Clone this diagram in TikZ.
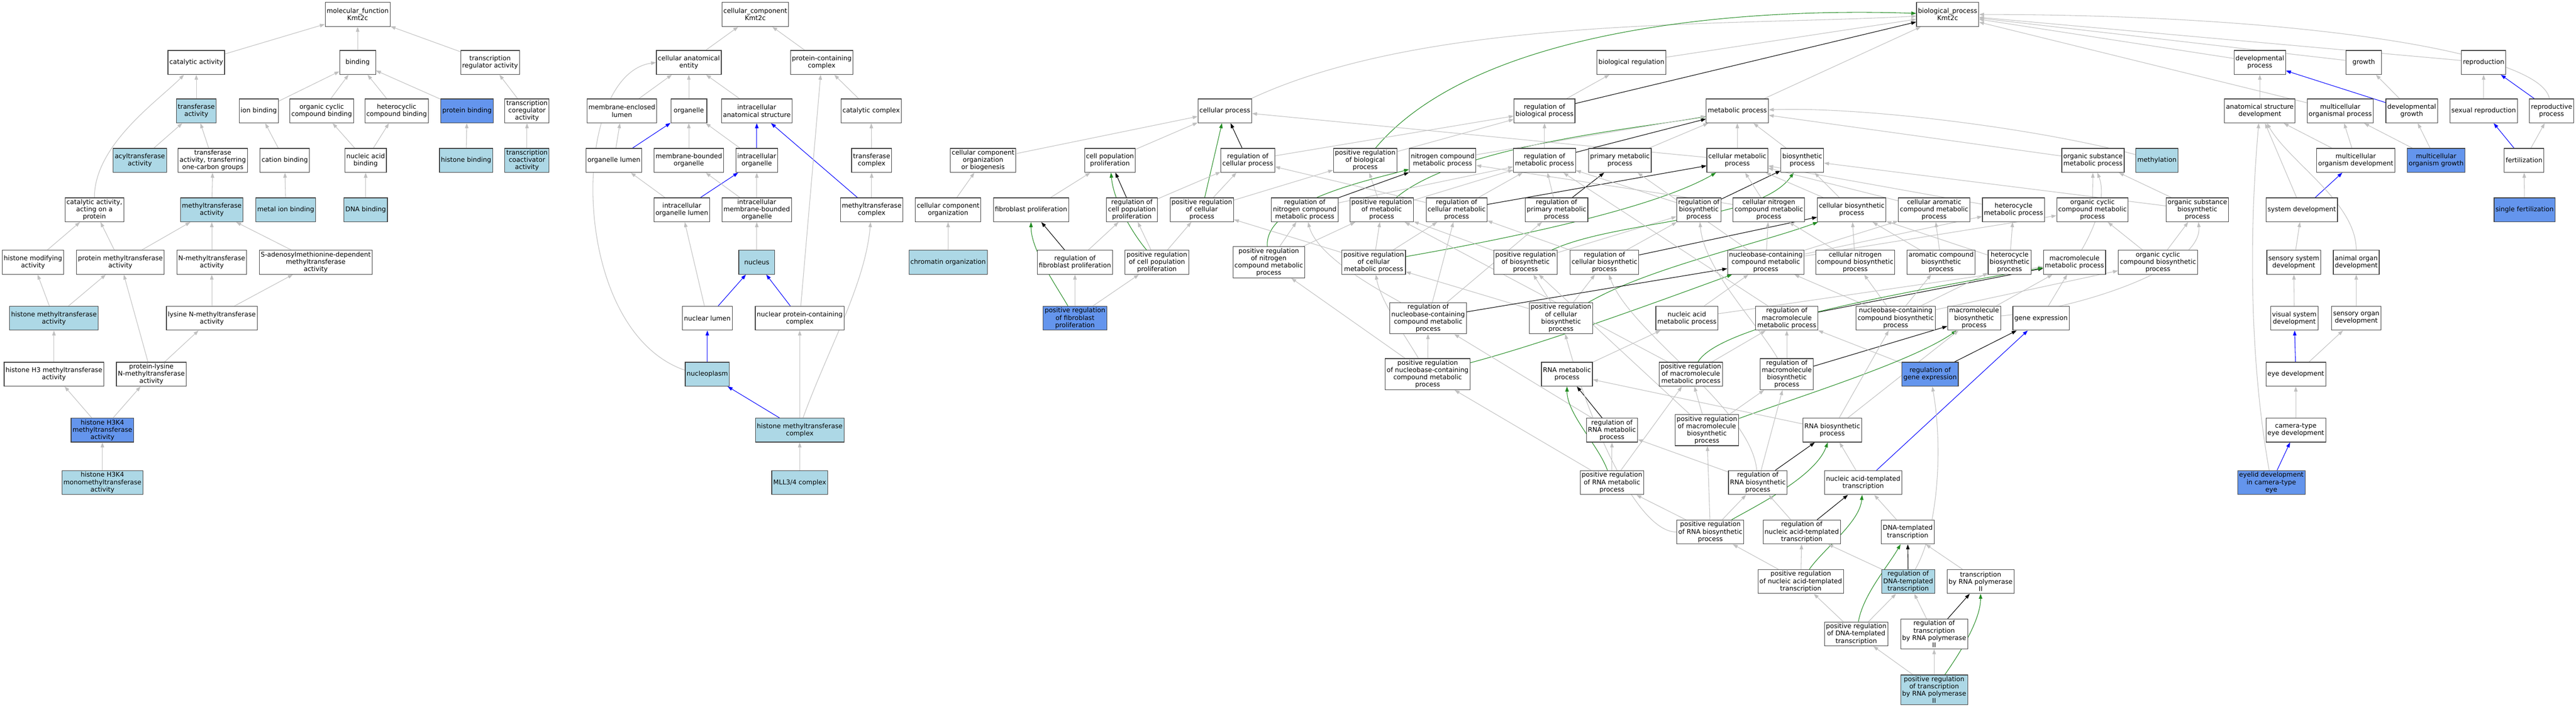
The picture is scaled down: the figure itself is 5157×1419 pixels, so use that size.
\documentclass[tikz,border=0pt]{standalone}
\usepackage{fontspec}
\setmainfont{DejaVu Sans}
\usetikzlibrary{arrows.meta,backgrounds}
\definecolor{isagray}{RGB}{192,192,192}
\definecolor{posgreen}{RGB}{34,139,34}
\definecolor{lightbluefill}{RGB}{173,216,230}
\definecolor{cornflower}{RGB}{100,149,237}
\tikzset{
	term/.style={rectangle, draw=black!75, line width=1.2pt, fill=white, align=center, inner xsep=3pt, inner ysep=3pt, minimum width=72pt, minimum height=48pt, font=\fontsize{13pt}{14.6pt}\selectfont},
	termlb/.style={term, fill=lightbluefill},
	termcf/.style={term, fill=cornflower},
	isaedge/.style={draw=isagray, line width=1.1pt, -{Triangle[length=10pt,width=7pt]}},
	regedge/.style={isaedge, draw=black},
	posedge/.style={isaedge, draw=posgreen},
	partedge/.style={isaedge, draw=blue}
}
\begin{document}
\begin{tikzpicture}[x=1pt,y=-1pt]
	\useasboundingbox (0,0) rectangle (5157,1419);

	\node[term] (mf) at (716,29) {molecular\_function\\Kmt2c};
	\node[term] (catact) at (393,125) {catalytic activity};
	\node[term] (bind) at (716,125) {binding};
	\node[term] (tra) at (981,125) {transcription\\regulator activity};
	\node[termlb] (trans) at (393,222) {transferase\\activity};
	\node[term] (ionb) at (518,222) {ion binding};
	\node[term] (occb) at (644,222) {organic cyclic\\compound binding};
	\node[term] (hetcb) at (794,222) {heterocyclic\\compound binding};
	\node[termcf] (protb) at (935,222) {protein binding};
	\node[term] (tcoreg) at (1055,222) {transcription\\coregulator\\activity};
	\node[termlb] (acyl) at (280,321) {acyltransferase\\activity};
	\node[term] (onec) at (426,321) {transferase\\activity, transferring\\one-carbon groups};
	\node[term] (cationb) at (570,321) {cation binding};
	\node[term] (nab) at (732,321) {nucleic acid\\binding};
	\node[termlb] (histb) at (933,321) {histone binding};
	\node[termlb] (tcoact) at (1055,321) {transcription\\coactivator\\activity};
	\node[term] (catprot) at (189,420) {catalytic activity,\\acting on a\\protein};
	\node[termlb] (methtr) at (424,420) {methyltransferase\\activity};
	\node[termlb] (metalb) at (572,420) {metal ion binding};
	\node[termlb] (dnab) at (732,420) {DNA binding};
	\node[term] (histmod) at (66,525) {histone modifying\\activity};
	\node[term] (protmeth) at (241,525) {protein methyltransferase\\activity};
	\node[term] (nmeth) at (424,525) {N-methyltransferase\\activity};
	\node[term] (sam) at (632,525) {S-adenosylmethionine-dependent\\methyltransferase\\activity};
	\node[termlb] (histmeth) at (108,637) {histone methyltransferase\\activity};
	\node[term] (lysnmeth) at (424,637) {lysine N-methyltransferase\\activity};
	\node[term] (h3meth) at (108,749) {histone H3 methyltransferase\\activity};
	\node[term] (plnmeth) at (303,749) {protein-lysine\\N-methyltransferase\\activity};
	\node[termcf] (h3k4) at (205,861) {histone H3K4\\methyltransferase\\activity};
	\node[termlb] (h3k4mono) at (205,966) {histone H3K4\\monomethyltransferase\\activity};

	\node[term] (cc) at (1512,29) {cellular\_component\\Kmt2c};
	\node[term] (cae) at (1379,125) {cellular anatomical\\entity};
	\node[term] (pcc) at (1645,125) {protein-containing\\complex};
	\node[term] (mel) at (1245,222) {membrane-enclosed\\lumen};
	\node[term] (organelle) at (1379,222) {organelle};
	\node[term] (ias) at (1515,222) {intracellular\\anatomical structure};
	\node[term] (catcplx) at (1744,222) {catalytic complex};
	\node[term] (orglumen) at (1229,321) {organelle lumen};
	\node[term] (mbo) at (1379,321) {membrane-bounded\\organelle};
	\node[term] (io) at (1515,321) {intracellular\\organelle};
	\node[term] (transcplx) at (1745,321) {transferase\\complex};
	\node[term] (iol) at (1365,420) {intracellular\\organelle lumen};
	\node[term] (imbo) at (1515,420) {intracellular\\membrane-bounded\\organelle};
	\node[term] (methcplx) at (1745,420) {methyltransferase\\complex};
	\node[termlb] (nucleus) at (1515,525) {nucleus};
	\node[term] (nuclumen) at (1416,637) {nuclear lumen};
	\node[term] (npcc) at (1601,637) {nuclear protein-containing\\complex};
	\node[termlb] (nucleoplasm) at (1416,749) {nucleoplasm};
	\node[termlb] (hmtcplx) at (1601,861) {histone methyltransferase\\complex};
	\node[termlb] (mll) at (1601,966) {MLL3/4 complex};

	\node[term] (bp) at (3899,29) {biological\_process\\Kmt2c};
	\node[term] (bioreg) at (3266,125) {biological regulation};
	\node[term] (devproc) at (4524,125) {developmental\\process};
	\node[term] (growth) at (4732,125) {growth};
	\node[term] (repro) at (4972,125) {reproduction};
	\node[term] (cellproc) at (2452,222) {cellular process};
	\node[term] (regbp) at (3092,222) {regulation of\\biological process};
	\node[term] (mp) at (3478,222) {metabolic process};
	\node[term] (asd) at (4524,222) {anatomical structure\\development};
	\node[term] (mop) at (4685,222) {multicellular\\organismal process};
	\node[term] (devgrowth) at (4828,222) {developmental\\growth};
	\node[term] (sexrepro) at (4972,222) {sexual reproduction};
	\node[term] (reprproc) at (5108,222) {reproductive\\process};
	\node[term] (ccob) at (1968,321) {cellular component\\organization\\or biogenesis};
	\node[term] (cpp) at (2222,321) {cell population\\proliferation};
	\node[term] (regcp) at (2498,321) {regulation of\\cellular process};
	\node[term] (posregbp) at (2733,321) {positive regulation\\of biological\\process};
	\node[term] (ncmp) at (2888,321) {nitrogen compound\\metabolic process};
	\node[term] (regmp) at (3092,321) {regulation of\\metabolic process};
	\node[term] (pmp) at (3243,321) {primary metabolic\\process};
	\node[term] (cmp) at (3478,321) {cellular metabolic\\process};
	\node[term] (biosyn) at (3608,321) {biosynthetic\\process};
	\node[term] (osmp) at (4190,321) {organic substance\\metabolic process};
	\node[termlb] (methyl) at (4318,321) {methylation};
	\node[term] (mod) at (4716,321) {multicellular\\organism development};
	\node[termcf] (mog) at (4877,321) {multicellular\\organism growth};
	\node[term] (fert) at (5053,321) {fertilization};
	\node[term] (cco) at (1898,420) {cellular component\\organization};
	\node[term] (fibro) at (2064,420) {fibroblast proliferation};
	\node[term] (regcpp) at (2266,420) {regulation of\\cell population\\proliferation};
	\node[term] (posregcp) at (2406,420) {positive regulation\\of cellular\\process};
	\node[term] (regncmp) at (2612,420) {regulation of\\nitrogen compound\\metabolic process};
	\node[term] (posregmp) at (2766,420) {positive regulation\\of metabolic\\process};
	\node[term] (regcmp) at (2916,420) {regulation of\\cellular metabolic\\process};
	\node[term] (regpmp) at (3116,420) {regulation of\\primary metabolic\\process};
	\node[term] (regbios) at (3401,420) {regulation of\\biosynthetic\\process};
	\node[term] (cncmp) at (3541,420) {cellular nitrogen\\compound metabolic\\process};
	\node[term] (cbp) at (3707,420) {cellular biosynthetic\\process};
	\node[term] (cacmp) at (3872,420) {cellular aromatic\\compound metabolic\\process};
	\node[term] (hmp) at (4031,420) {heterocycle\\metabolic process};
	\node[term] (occmp) at (4189,420) {organic cyclic\\compound metabolic\\process};
	\node[term] (osbp) at (4399,420) {organic substance\\biosynthetic\\process};
	\node[term] (sysdev) at (4608,420) {system development};
	\node[termcf] (sfert) at (5054,420) {single fertilization};
	\node[termlb] (chrom) at (1898,525) {chromatin organization};
	\node[term] (regfibro) at (2152,525) {regulation of\\fibroblast proliferation};
	\node[term] (posregcpp) at (2316,525) {positive regulation\\of cell population\\proliferation};
	\node[term] (posregncmp) at (2540,525) {positive regulation\\of nitrogen\\compound metabolic\\process};
	\node[term] (posregcmp) at (2750,525) {positive regulation\\of cellular\\metabolic process};
	\node[term] (posregbios) at (3054,525) {positive regulation\\of biosynthetic\\process};
	\node[term] (regcbp) at (3212,525) {regulation of\\cellular biosynthetic\\process};
	\node[term] (nbccmp) at (3535,525) {nucleobase-containing\\compound metabolic\\process};
	\node[term] (cncbp) at (3714,525) {cellular nitrogen\\compound biosynthetic\\process};
	\node[term] (acbp) at (3886,525) {aromatic compound\\biosynthetic\\process};
	\node[term] (hbp) at (4023,525) {heterocycle\\biosynthetic\\process};
	\node[term] (mmp) at (4153,525) {macromolecule\\metabolic process};
	\node[term] (occbp) at (4320,525) {organic cyclic\\compound biosynthetic\\process};
	\node[term] (ssd) at (4592,525) {sensory system\\development};
	\node[term] (aod) at (4717,525) {animal organ\\development};
	\node[termcf] (posregfibro) at (2152,637) {positive regulation\\of fibroblast\\proliferation};
	\node[term] (regnbccmp) at (2859,637) {regulation of\\nucleobase-containing\\compound metabolic\\process};
	\node[term] (posregcbp) at (3125,637) {positive regulation\\of cellular\\biosynthetic\\process};
	\node[term] (namp) at (3377,637) {nucleic acid\\metabolic process};
	\node[term] (regmmp) at (3577,637) {regulation of\\macromolecule\\metabolic process};
	\node[term] (nbcbp) at (3795,637) {nucleobase-containing\\compound biosynthetic\\process};
	\node[term] (mbp) at (3952,637) {macromolecule\\biosynthetic\\process};
	\node[term] (gexp) at (4086,637) {gene expression};
	\node[term] (vsd) at (4593,637) {visual system\\development};
	\node[term] (sod) at (4717,637) {sensory organ\\development};
	\node[term] (posregnbccmp) at (2858,749) {positive regulation\\of nucleobase-containing\\compound metabolic\\process};
	\node[term] (rnamp) at (3137,749) {RNA metabolic\\process};
	\node[term] (posregmmp) at (3385,749) {positive regulation\\of macromolecule\\metabolic process};
	\node[term] (regmbp) at (3577,749) {regulation of\\macromolecule\\biosynthetic\\process};
	\node[termcf] (reggexp) at (3864,749) {regulation of\\gene expression};
	\node[term] (eyedev) at (4596,749) {eye development};
	\node[term] (regrnamp) at (3227,861) {regulation of\\RNA metabolic\\process};
	\node[term] (posregmbp) at (3417,861) {positive regulation\\of macromolecule\\biosynthetic\\process};
	\node[term] (rnabp) at (3668,861) {RNA biosynthetic\\process};
	\node[term] (camera) at (4596,861) {camera-type\\eye development};
	\node[term] (posregrnamp) at (3227,966) {positive regulation\\of RNA metabolic\\process};
	\node[term] (regrnabp) at (3519,966) {regulation of\\RNA biosynthetic\\process};
	\node[term] (natt) at (3730,966) {nucleic acid-templated\\transcription};
	\node[termcf] (eyelid) at (4547,966) {eyelid development\\in camera-type\\eye};
	\node[term] (posregrnabp) at (3424,1065) {positive regulation\\of RNA biosynthetic\\process};
	\node[term] (regnatt) at (3607,1065) {regulation of\\nucleic acid-templated\\transcription};
	\node[term] (dnatt) at (3819,1065) {DNA-templated\\transcription};
	\node[term] (posregnatt) at (3605,1164) {positive regulation\\of nucleic acid-templated\\transcription};
	\node[termlb] (regdnatt) at (3820,1164) {regulation of\\DNA-templated\\transcription};
	\node[term] (tpol2) at (3965,1164) {transcription\\by RNA polymerase\\II};
	\node[term] (posregdnatt) at (3716,1269) {positive regulation\\of DNA-templated\\transcription};
	\node[term] (regtpol2) at (3872,1269) {regulation of\\transcription\\by RNA polymerase\\II};
	\node[termlb] (posregtpol2) at (3872,1381) {positive regulation\\of transcription\\by RNA polymerase\\II};

	\begin{scope}[on background layer]
	\draw[isaedge] (catact) -- (mf);
	\draw[isaedge] (bind) -- (mf);
	\draw[isaedge] (tra) -- (mf);
	\draw[isaedge] (trans) -- (catact);
	\draw[isaedge] (catprot) .. controls +(90:130pt) and +(225:110pt) .. (catact);
	\draw[isaedge] (ionb) -- (bind);
	\draw[isaedge] (occb) -- (bind);
	\draw[isaedge] (hetcb) -- (bind);
	\draw[isaedge] (protb) -- (bind);
	\draw[isaedge] (tcoreg) -- (tra);
	\draw[isaedge] (acyl) -- (trans);
	\draw[isaedge] (onec) -- (trans);
	\draw[isaedge] (cationb) -- (ionb);
	\draw[isaedge] (nab) -- (occb);
	\draw[isaedge] (nab) -- (hetcb);
	\draw[isaedge] (histb) -- (protb);
	\draw[isaedge] (tcoact) -- (tcoreg);
	\draw[isaedge] (methtr) -- (onec);
	\draw[isaedge] (metalb) -- (cationb);
	\draw[isaedge] (dnab) -- (nab);
	\draw[isaedge] (histmod) -- (catprot);
	\draw[isaedge] (protmeth) -- (catprot);
	\draw[isaedge] (protmeth) -- (methtr);
	\draw[isaedge] (nmeth) -- (methtr);
	\draw[isaedge] (sam) -- (methtr);
	\draw[isaedge] (histmeth) -- (histmod);
	\draw[isaedge] (histmeth) -- (protmeth);
	\draw[isaedge] (lysnmeth) -- (nmeth);
	\draw[isaedge] (lysnmeth) -- (sam);
	\draw[isaedge] (h3meth) -- (histmeth);
	\draw[isaedge] (plnmeth) -- (protmeth);
	\draw[isaedge] (plnmeth) -- (lysnmeth);
	\draw[isaedge] (h3k4) -- (h3meth);
	\draw[isaedge] (h3k4) -- (plnmeth);
	\draw[isaedge] (h3k4mono) -- (h3k4);

	\draw[isaedge] (cae) -- (cc);
	\draw[isaedge] (pcc) -- (cc);
	\draw[isaedge] (mel) -- (cae);
	\draw[isaedge] (organelle) -- (cae);
	\draw[isaedge] (ias) -- (cae);
	\draw[isaedge] (catcplx) -- (pcc);
	\draw[isaedge] (orglumen) -- (mel);
	\draw[partedge] (orglumen) -- (organelle);
	\draw[isaedge] (mbo) -- (organelle);
	\draw[isaedge] (io) -- (organelle);
	\draw[partedge] (io) -- (ias);
	\draw[isaedge] (transcplx) -- (catcplx);
	\draw[isaedge] (iol) -- (orglumen);
	\draw[partedge] (iol) -- (io);
	\draw[isaedge] (imbo) -- (mbo);
	\draw[isaedge] (imbo) -- (io);
	\draw[isaedge] (methcplx) -- (transcplx);
	\draw[partedge] (methcplx) -- (ias);
	\draw[isaedge] (nucleus) -- (imbo);
	\draw[isaedge] (nuclumen) -- (iol);
	\draw[partedge] (nuclumen) -- (nucleus);
	\draw[partedge] (npcc) -- (nucleus);
	\draw[isaedge] (npcc) -- (pcc);
	\draw[partedge] (nucleoplasm) -- (nuclumen);
	\draw[isaedge] (nucleoplasm.170) .. controls (1136,660) and (1140,150) .. (cae.west);
	\draw[partedge] (hmtcplx) -- (nucleoplasm);
	\draw[isaedge] (hmtcplx) -- (npcc);
	\draw[isaedge] (hmtcplx.75) .. controls +(70:150pt) and +(265:150pt) .. (methcplx);
	\draw[isaedge] (mll) -- (hmtcplx);

	\draw[isaedge] (bioreg) -- (bp);
	\draw[isaedge] (cellproc) .. controls +(25:450pt) and +(183:450pt) .. (bp);
	\draw[isaedge] (mp) -- (bp);
	\draw[isaedge] (devproc) -- (bp);
	\draw[isaedge] (growth) -- (bp);
	\draw[isaedge] (repro) -- (bp);
	\draw[isaedge] (mop) -- (bp);
	\draw[isaedge] (reprproc) .. controls +(100:120pt) and +(0:700pt) .. (bp);
	\draw[regedge] (regbp) -- (bp);
	\draw[posedge] (posregbp) .. controls +(50:350pt) and +(178:400pt) .. (bp);
	\draw[isaedge] (regbp) -- (bioreg);
	\draw[isaedge] (posregbp) -- (regbp);
	\draw[isaedge] (regcp) -- (regbp);
	\draw[regedge] (regcp) -- (cellproc);
	\draw[posedge] (posregcp) -- (cellproc);
	\draw[isaedge] (posregcp) -- (regcp);
	\draw[isaedge] (posregcp) -- (posregbp);
	\draw[isaedge] (cpp) -- (cellproc);
	\draw[isaedge] (ccob) -- (cellproc);
	\draw[isaedge] (cmp) -- (cellproc);
	\draw[isaedge] (regcpp) -- (regcp);
	\draw[regedge] (regcpp) -- (cpp);
	\draw[posedge] (posregcpp) .. controls +(130:80pt) and +(275:80pt) .. (cpp);
	\draw[isaedge] (posregcpp) -- (regcpp);
	\draw[isaedge] (posregcpp) -- (posregcp);
	\draw[isaedge] (fibro) -- (cpp);
	\draw[regedge] (regfibro) -- (fibro);
	\draw[isaedge] (regfibro) -- (regcpp);
	\draw[posedge] (posregfibro) .. controls +(120:80pt) and +(270:80pt) .. (fibro);
	\draw[isaedge] (posregfibro) -- (regfibro);
	\draw[isaedge] (posregfibro) -- (posregcpp);
	\draw[isaedge] (cco) -- (ccob);
	\draw[isaedge] (chrom) -- (cco);
	\draw[isaedge] (regmp) -- (regbp);
	\draw[regedge] (regmp) -- (mp);
	\draw[isaedge] (posregmp) -- (posregbp);
	\draw[isaedge] (posregmp) -- (regmp);
	\draw[posedge] (posregmp) .. controls +(40:200pt) and +(190:200pt) .. (mp);
	\draw[isaedge] (ncmp) -- (mp);
	\draw[isaedge] (pmp) -- (mp);
	\draw[isaedge] (cmp) -- (mp);
	\draw[isaedge] (biosyn) -- (mp);
	\draw[isaedge] (osmp) -- (mp);
	\draw[isaedge] (methyl) .. controls +(165:250pt) and +(2:250pt) .. (mp);
	\draw[isaedge] (regncmp) -- (regmp);
	\draw[regedge] (regncmp) -- (ncmp);
	\draw[posedge] (posregncmp) .. controls +(95:120pt) and +(195:150pt) .. (ncmp);
	\draw[isaedge] (posregncmp) -- (regncmp);
	\draw[isaedge] (posregncmp) -- (posregmp);
	\draw[isaedge] (regcmp) -- (regmp);
	\draw[isaedge] (regcmp) -- (regcp);
	\draw[regedge] (regcmp) -- (cmp);
	\draw[isaedge] (posregcmp) -- (posregcp);
	\draw[isaedge] (posregcmp) -- (posregmp);
	\draw[isaedge] (posregcmp) -- (regcmp);
	\draw[posedge] (posregcmp) .. controls +(10:250pt) and +(210:200pt) .. (cmp);
	\draw[isaedge] (regpmp) -- (regmp);
	\draw[regedge] (regpmp) -- (pmp);
	\draw[isaedge] (regbios) -- (regmp);
	\draw[regedge] (regbios) -- (biosyn);
	\draw[isaedge] (posregbios) -- (posregmp);
	\draw[isaedge] (posregbios) -- (regbios);
	\draw[posedge] (posregbios) .. controls +(25:200pt) and +(235:150pt) .. (biosyn);
	\draw[isaedge] (cncmp) -- (ncmp);
	\draw[isaedge] (cncmp) -- (cmp);
	\draw[isaedge] (cbp) -- (biosyn);
	\draw[isaedge] (cbp) -- (cmp);
	\draw[isaedge] (cacmp) -- (cmp);
	\draw[isaedge] (hmp) -- (cmp);
	\draw[isaedge] (occmp) -- (osmp);
	\draw[isaedge] (osbp) -- (osmp);
	\draw[isaedge] (osbp) -- (biosyn);
	\draw[isaedge] (regcbp) -- (regbios);
	\draw[isaedge] (regcbp) -- (regcmp);
	\draw[regedge] (regcbp) -- (cbp);
	\draw[isaedge] (posregcbp) -- (posregcmp);
	\draw[isaedge] (posregcbp) -- (posregbios);
	\draw[isaedge] (posregcbp) -- (regcbp);
	\draw[posedge] (posregcbp) .. controls +(30:200pt) and +(200:200pt) .. (cbp);
	\draw[isaedge] (nbccmp) -- (cncmp);
	\draw[isaedge] (nbccmp) -- (cacmp);
	\draw[isaedge] (nbccmp) -- (hmp);
	\draw[isaedge] (nbccmp) -- (occmp);
	\draw[isaedge] (nbccmp) -- (pmp);
	\draw[isaedge] (regnbccmp) .. controls +(150:100pt) and +(285:100pt) .. (regncmp);
	\draw[isaedge] (regnbccmp) -- (regcmp);
	\draw[isaedge] (regnbccmp) -- (regpmp);
	\draw[regedge] (regnbccmp) -- (nbccmp);
	\draw[isaedge] (posregnbccmp) -- (posregncmp);
	\draw[isaedge] (posregnbccmp) -- (regnbccmp);
	\draw[isaedge] (posregnbccmp) .. controls +(120:80pt) and +(280:80pt) .. (posregcmp);
	\draw[posedge] (posregnbccmp) .. controls +(15:250pt) and +(200:250pt) .. (nbccmp);
	\draw[isaedge] (cncbp) -- (cncmp);
	\draw[isaedge] (cncbp) -- (cbp);
	\draw[isaedge] (acbp) -- (cacmp);
	\draw[isaedge] (acbp) -- (cbp);
	\draw[isaedge] (hbp) -- (hmp);
	\draw[isaedge] (hbp) -- (cbp);
	\draw[isaedge] (mmp) .. controls +(60:80pt) and +(290:80pt) .. (osmp);
	\draw[isaedge] (occbp) -- (occmp);
	\draw[isaedge] (occbp) -- (osbp);
	\draw[isaedge] (namp) -- (nbccmp);
	\draw[isaedge] (namp) -- (mmp);
	\draw[isaedge] (regmmp) -- (regmp);
	\draw[regedge] (regmmp) -- (mmp);
	\draw[isaedge] (nbcbp) -- (nbccmp);
	\draw[isaedge] (nbcbp) -- (cncbp);
	\draw[isaedge] (nbcbp) -- (acbp);
	\draw[isaedge] (nbcbp) -- (hbp);
	\draw[isaedge] (nbcbp) -- (occbp);
	\draw[isaedge] (mbp) -- (mmp);
	\draw[isaedge] (mbp) .. controls +(5:200pt) and +(275:120pt) .. (osbp);
	\draw[isaedge] (gexp) -- (mmp);
	\draw[isaedge] (rnamp) -- (namp);
	\draw[isaedge] (posregmmp) -- (regmmp);
	\draw[isaedge] (posregmmp) -- (posregmp);
	\draw[posedge] (posregmmp) .. controls +(60:120pt) and +(190:300pt) .. (mmp);
	\draw[isaedge] (regmbp) -- (regmmp);
	\draw[isaedge] (regmbp) .. controls +(120:120pt) and +(275:120pt) .. (regbios);
	\draw[regedge] (regmbp) -- (mbp);
	\draw[isaedge] (reggexp) -- (regmmp);
	\draw[regedge] (reggexp) -- (gexp);
	\draw[isaedge] (regrnamp) -- (regnbccmp);
	\draw[regedge] (regrnamp) -- (rnamp);
	\draw[isaedge] (posregmbp) -- (posregmmp);
	\draw[isaedge] (posregmbp) -- (regmbp);
	\draw[isaedge] (posregmbp) -- (posregbios);
	\draw[posedge] (posregmbp) .. controls +(20:200pt) and +(215:150pt) .. (mbp);
	\draw[isaedge] (rnabp) -- (rnamp);
	\draw[isaedge] (rnabp) -- (nbcbp);
	\draw[isaedge] (rnabp) -- (mbp);
	\draw[isaedge] (posregrnamp) -- (posregnbccmp);
	\draw[isaedge] (posregrnamp) -- (regrnamp);
	\draw[isaedge] (posregrnamp) -- (posregmmp);
	\draw[posedge] (posregrnamp) .. controls +(110:80pt) and +(270:80pt) .. (rnamp);
	\draw[isaedge] (regrnabp) -- (regrnamp);
	\draw[isaedge] (regrnabp) -- (regmbp);
	\draw[isaedge] (regrnabp) .. controls +(95:150pt) and +(290:150pt) .. (regcbp);
	\draw[regedge] (regrnabp) -- (rnabp);
	\draw[isaedge] (natt) -- (rnabp);
	\draw[partedge] (natt) -- (gexp);
	\draw[isaedge] (posregrnabp) -- (posregrnamp);
	\draw[isaedge] (posregrnabp) -- (posregmbp);
	\draw[isaedge] (posregrnabp) -- (regrnabp);
	\draw[isaedge] (posregrnabp) .. controls +(180:150pt) and +(285:200pt) .. (posregcbp);
	\draw[posedge] (posregrnabp) .. controls +(30:100pt) and +(250:100pt) .. (rnabp);
	\draw[isaedge] (regnatt) -- (regrnabp);
	\draw[regedge] (regnatt) -- (natt);
	\draw[isaedge] (dnatt) -- (natt);
	\draw[isaedge] (posregnatt) -- (posregrnabp);
	\draw[isaedge] (posregnatt) -- (regnatt);
	\draw[posedge] (posregnatt) .. controls +(55:80pt) and +(265:80pt) .. (natt);
	\draw[isaedge] (regdnatt) -- (regnatt);
	\draw[isaedge] (regdnatt) .. controls +(60:120pt) and +(280:150pt) .. (reggexp);
	\draw[regedge] (regdnatt) -- (dnatt);
	\draw[isaedge] (tpol2) -- (dnatt);
	\draw[isaedge] (posregdnatt) -- (posregnatt);
	\draw[isaedge] (posregdnatt) -- (regdnatt);
	\draw[posedge] (posregdnatt) .. controls +(80:80pt) and +(240:80pt) .. (dnatt);
	\draw[isaedge] (regtpol2) -- (regdnatt);
	\draw[regedge] (regtpol2) -- (tpol2);
	\draw[isaedge] (posregtpol2) -- (posregdnatt);
	\draw[isaedge] (posregtpol2) -- (regtpol2);
	\draw[posedge] (posregtpol2) .. controls +(55:80pt) and +(270:80pt) .. (tpol2);

	\draw[isaedge] (asd) -- (devproc);
	\draw[isaedge] (devgrowth) -- (growth);
	\draw[partedge] (devgrowth) -- (devproc);
	\draw[isaedge] (sexrepro) -- (repro);
	\draw[partedge] (reprproc) -- (repro);
	\draw[isaedge] (mod) -- (asd);
	\draw[isaedge] (mod) -- (mop);
	\draw[isaedge] (mog) -- (mop);
	\draw[isaedge] (mog) -- (devgrowth);
	\draw[partedge] (fert) -- (sexrepro);
	\draw[isaedge] (fert) -- (reprproc);
	\draw[isaedge] (sysdev) -- (asd);
	\draw[partedge] (sysdev) -- (mod);
	\draw[isaedge] (sfert) -- (fert);
	\draw[isaedge] (ssd) -- (sysdev);
	\draw[isaedge] (aod) .. controls +(90:120pt) and +(300:120pt) .. (asd);
	\draw[isaedge] (vsd) -- (ssd);
	\draw[isaedge] (sod) -- (aod);
	\draw[partedge] (eyedev) -- (vsd);
	\draw[isaedge] (eyedev) -- (sod);
	\draw[isaedge] (camera) -- (eyedev);
	\draw[partedge] (eyelid) -- (camera);
	\draw[isaedge] (eyelid) .. controls +(100:250pt) and +(265:250pt) .. (asd);
	\end{scope}
\end{tikzpicture}
\end{document}
